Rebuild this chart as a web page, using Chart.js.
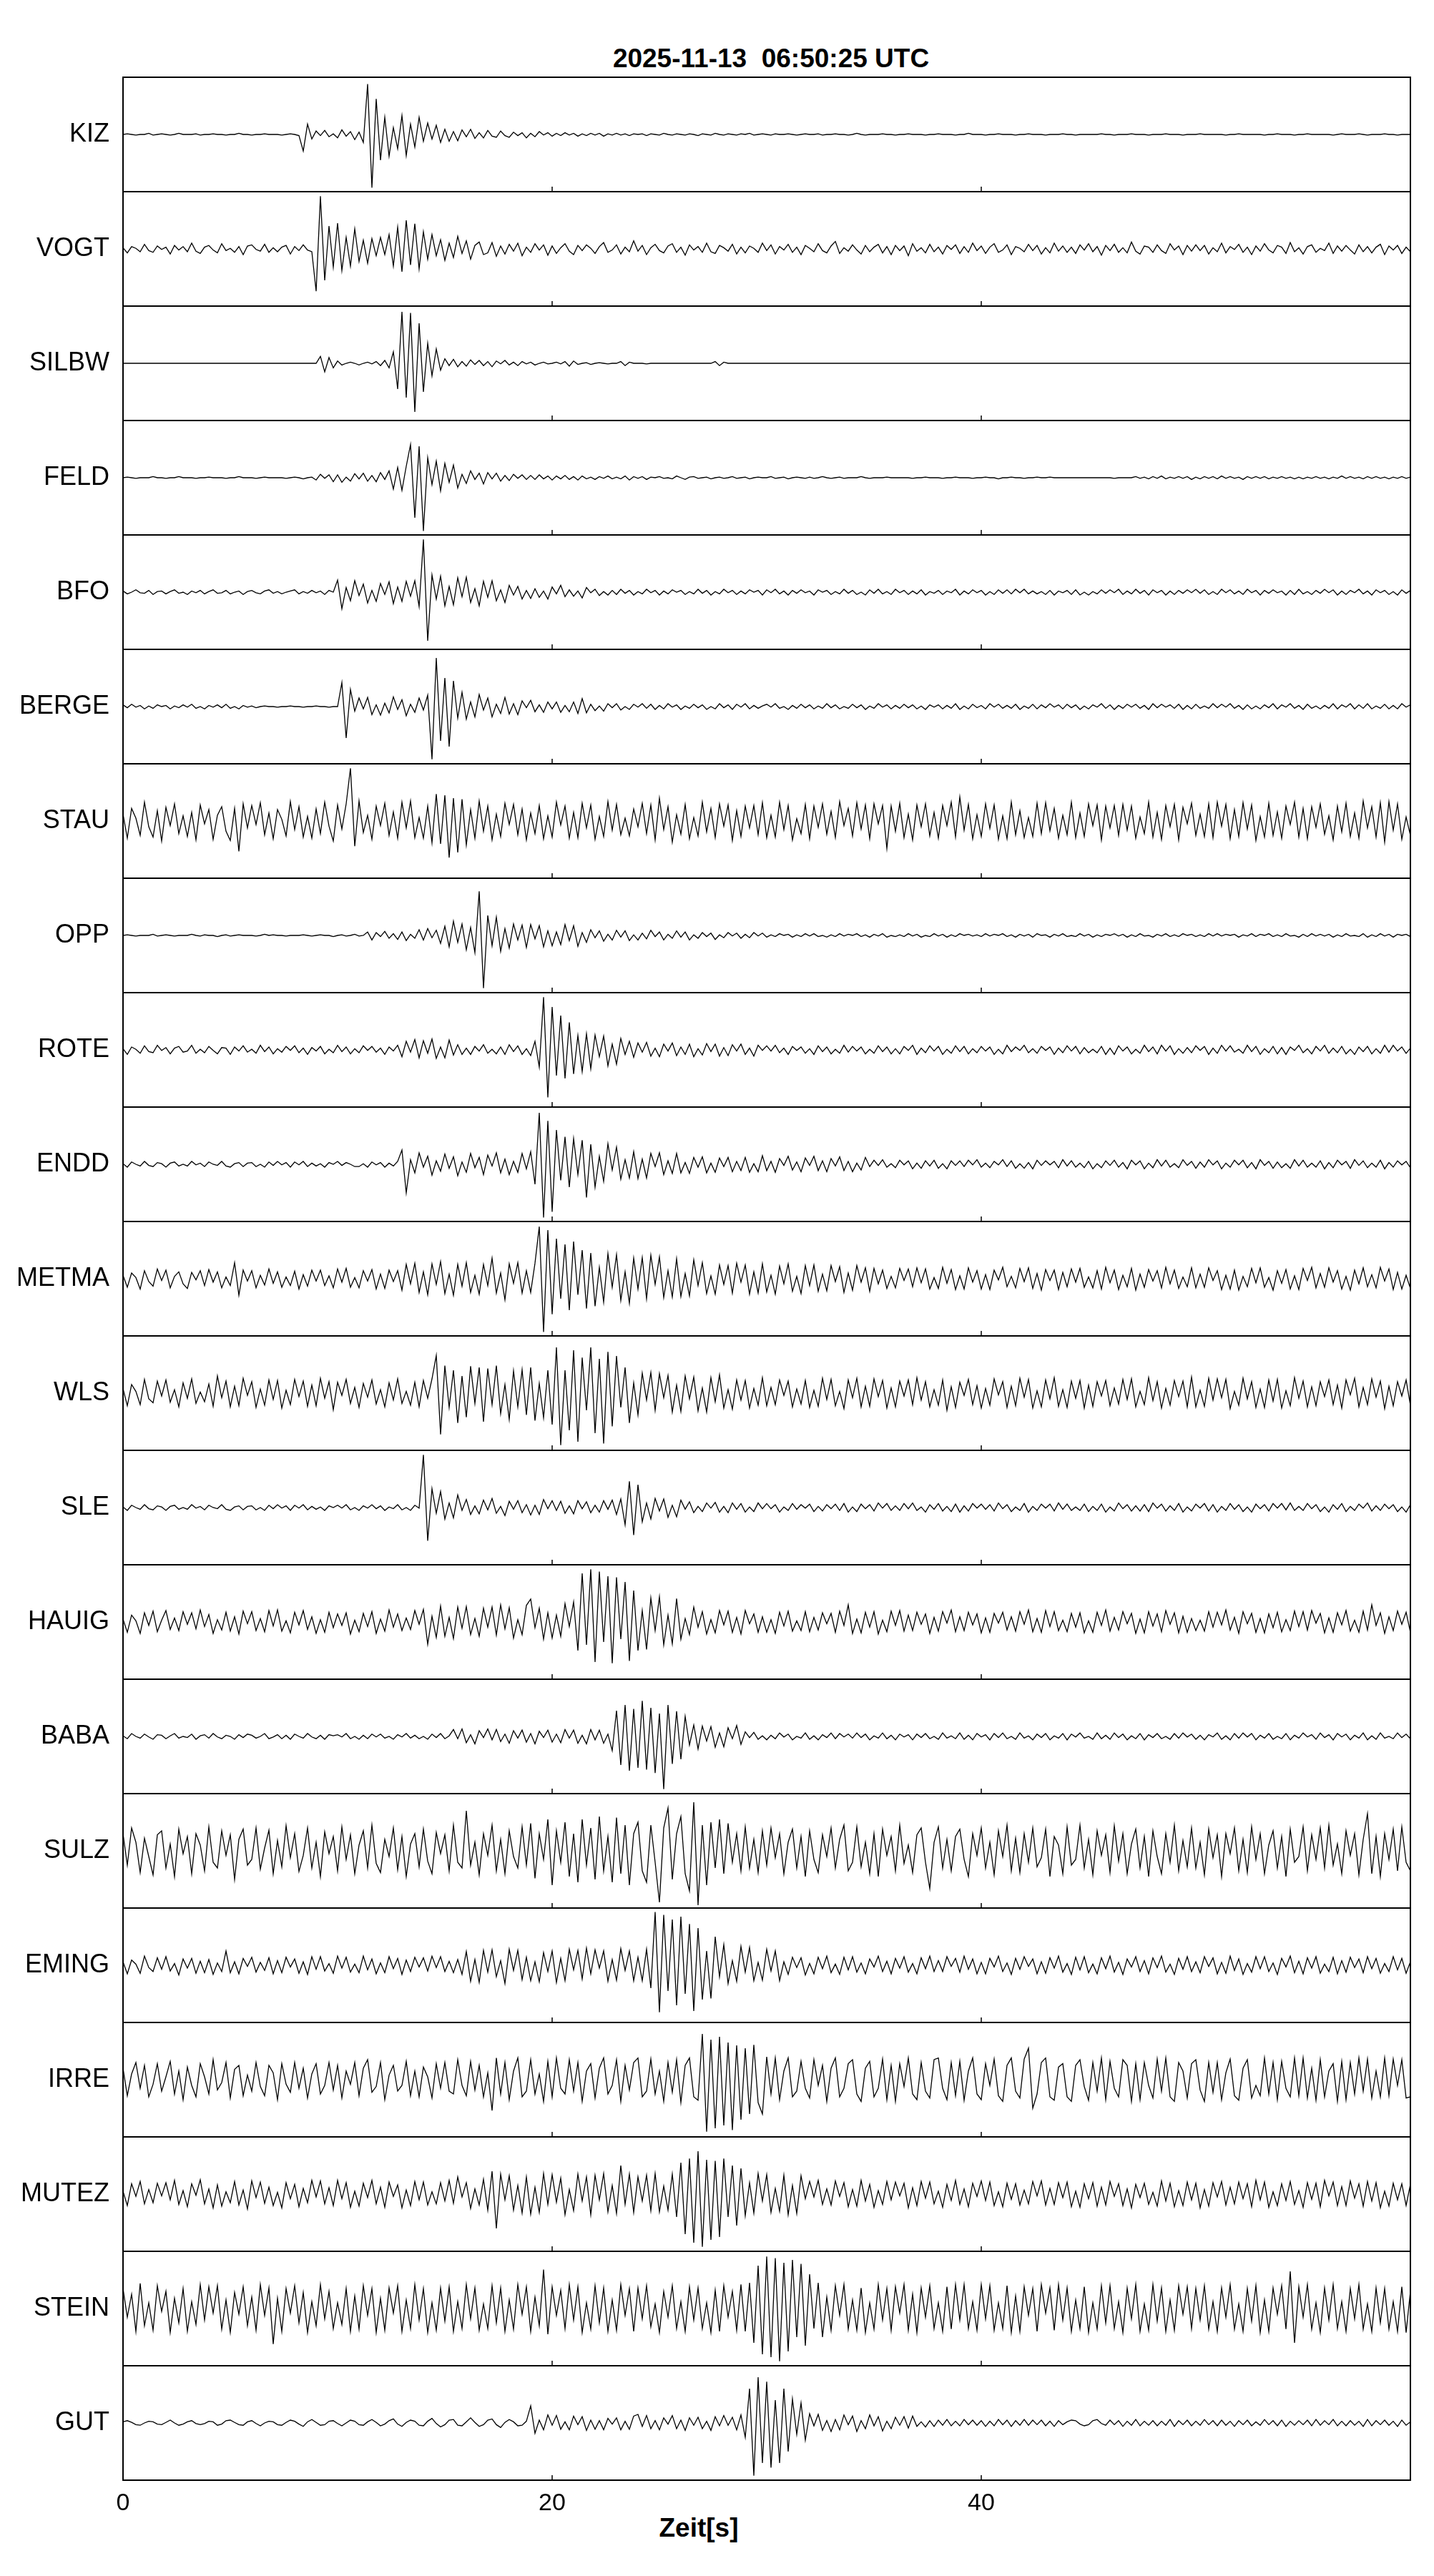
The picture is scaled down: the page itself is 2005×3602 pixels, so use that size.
<!DOCTYPE html>
<html>
<head>
<meta charset="utf-8">
<script src="https://cdn.jsdelivr.net/npm/chart.js@4.4.1/dist/chart.umd.min.js"></script>
<style>
    body {
        margin: 0;
        background: #fff;
        width: 2005px;
        height: 3602px;
        position: relative;
        font-family: "Liberation Sans", Arial, sans-serif;
    }
    canvas {
        position: absolute;
        left: 0;
    }
    .caption {
        position: absolute;
        font-weight: bold;
        font-size: 37px;
        line-height: 40px;
        text-align: center;
        white-space: pre;
        color: #000;
    }
</style>
</head>
<body>
<div class="caption" style="left:678px; width:800px; top:62px;">2025-11-13  06:50:25 UTC</div>
<div class="caption" style="left:777px; width:400px; top:3515px;">Zeit[s]</div>
<div id="panels"></div>

<script>
// one sample every 0.2 s, 0..60 s, amplitude in % of half panel height
const SAMPLE_STEP = 0.2;
const X_TICKS = [0, 20, 40];

const STATIONS = ["KIZ", "VOGT", "SILBW", "FELD", "BFO", "BERGE", "STAU", "OPP", "ROTE", "ENDD", "METMA",
    "WLS", "SLE", "HAUIG", "BABA", "SULZ", "EMING", "IRRE", "MUTEZ", "STEIN", "GUT"];

const KIZ = [
    0,1,0,-1,0, 0,2,-1,0,1, 0,-1,0,2,0, 0,0,1,-1,0, 0,1,0,0,-1, 0,0,2,0,0, -1,0,0,1,0, 0,0,-1,0,1, 0,-2,-29,18,-8, 6,-2,7,-4,1,
    -6,8,-3,5,-9, 4,-14,88,-93,62, -45,30,-38,12,-25, 33,-37,18,-22,30, -12,20,-8,16,-14, 9,-12,5,-11,8, -4,9,-7,3,-6, 7,-3,-5,6,-2, -5,4,-2,3,-6, 2,-4,5,-1,3,
    -3,2,-2,3,-1, 2,-3,1,-2,2, -1,2,-3,1,-1, 2,-1,1,-2,1, 0,1,-2,1,0, -1,2,0,-1,1, 0,-1,1,0,-2, 1,0,-1,2,0, -1,1,0,-1,1, 0,2,-1,0,1,
    0,-1,1,0,0, 1,0,-1,0,1, 0,0,1,-1,0, 0,1,0,0,-1, 0,2,0,-1,0, 0,0,1,0,0, -1,0,0,1,0, 0,0,-1,0,0, 1,0,0,0,-1, 0,0,2,0,0,
    0,-1,0,0,1, 0,0,0,-1,0, 0,1,0,0,0, -1,0,0,0,1, 0,0,-1,0,0, 0,0,0,1,0, 0,-1,0,0,0, 1,0,0,0,-1, 0,0,0,1,0, 0,0,-1,0,0,
    0,1,0,0,0, 0,0,-1,0,0, 1,0,0,0,0, 0,-1,0,0,1, 0,0,0,-1,0, 0,1,0,0,0, 0,0,-1,0,1, 0,0,0,1,0, -1,0,0,0,1, 0,0,-1,0,0, 0
];
const VOGT = [
    2,-7,4,1,-5, 8,-3,-6,5,-1, 3,-9,6,-2,4, -5,10,-4,-8,3, 6,-2,-7,9,-3, 1,-6,4,-10,5, 7,-1,-4,8,-6, 2,-5,3,6,-9, 4,-3,7,-2,-5, -74,92,-55,40,-32,
    45,-38,20,-30,35, -22,15,-25,18,-12, 20,-10,25,-30,38, -40,50,-28,44,-35, 30,-18,25,-12,16, -20,10,-15,22,-8, 14,-18,6,12,-10, -7,11,-13,5,-9, 8,-4,10,-12,3, -6,9,-2,7,-11,
    5,-8,2,9,-4, -10,6,-3,7,1, -8,4,11,-6,-2, 7,-9,3,-5,14, -4,6,-10,2,8, -3,-7,5,9,-6, 3,-11,7,-2,4, -6,10,-5,-8,6, 2,-4,8,-9,3, -7,5,1,-6,10,
    -3,7,-9,4,-2, 8,-6,3,-10,6, 1,-5,9,-3,-7, 5,13,-8,2,-4, 7,-2,-9,6,-5, 3,8,-7,4,-10, 6,-3,5,-12,9, -4,2,-7,8,-5, 3,-9,6,-1,7, -8,4,-6,10,-3,
    5,-8,3,9,-6, -2,7,-10,4,1, -5,8,-3,6,-9, 2,-7,10,-4,5, -6,3,-8,7,-2, 9,-5,4,-11,6, -3,8,-6,2,-7, 12,-4,-9,5,3, -6,7,-3,-8,9, -2,5,-10,6,-4,
    7,-3,6,-9,2, -5,10,-7,4,-1, 8,-6,3,-10,5, -4,9,-2,-7,6, 3,-8,11,-5,2, -9,4,7,-6,1, -3,10,-8,5,-4, 6,-2,-9,7,-5, 4,-7,3,8,-10, 5,-2,6,-8,3, -5
];
const SILBW = [
    0,0,0,0,0, 0,0,0,0,0, 0,0,0,0,0, 0,0,0,0,0, 0,0,0,0,0, 0,0,0,0,0, 0,0,0,0,0, 0,0,0,0,0, 0,0,0,0,0, 0,12,-15,10,-8,
    4,-3,0,2,0, -3,0,2,-1,3, -4,5,-8,20,-45, 90,-60,88,-85,70, -50,35,-22,25,-12, 8,-4,7,-6,3, -5,6,-2,5,-4, 3,-6,4,-1,5, -3,2,-4,3,-1, 2,-3,0,2,-1,
    0,2,-1,3,-5, 4,-2,0,1,-2, 0,1,0,-1,0, 0,3,-4,2,0, 0,0,-1,0,0, 0,0,0,0,0, 0,0,0,0,0, 0,0,0,3,-4, 2,0,0,0,0, 0,0,0,0,0,
    0,0,0,0,0, 0,0,0,0,0, 0,0,0,0,0, 0,0,0,0,0, 0,0,0,0,0, 0,0,0,0,0, 0,0,0,0,0, 0,0,0,0,0, 0,0,0,0,0, 0,0,0,0,0,
    0,0,0,0,0, 0,0,0,0,0, 0,0,0,0,0, 0,0,0,0,0, 0,0,0,0,0, 0,0,0,0,0, 0,0,0,0,0, 0,0,0,0,0, 0,0,0,0,0, 0,0,0,0,0,
    0,0,0,0,0, 0,0,0,0,0, 0,0,0,0,0, 0,0,0,0,0, 0,0,0,0,0, 0,0,0,0,0, 0,0,0,0,0, 0,0,0,0,0, 0,0,0,0,0, 0,0,0,0,0, 0
];
const FELD = [
    0,1,0,-1,0, 0,0,2,0,0, -1,0,0,2,0, 0,0,-1,0,0, 1,0,0,0,-1, 0,0,2,0,0, 0,-1,0,1,0, 0,0,0,-1,0, 1,0,-2,0,1, -4,6,-1,5,-7,
    5,-8,1,-6,7, -2,8,-6,4,-7, 9,-3,12,-20,18, -22,20,58,-70,55, -93,35,-12,29,-23, 25,-8,22,-18,6, -10,12,-3,8,-11, 9,-2,8,-6,4, -5,6,-1,5,-3, 4,-3,5,-2,3,
    -4,3,-2,4,-3, 2,-4,3,-2,1, -3,2,-1,3,-2, 1,-2,3,-4,2, -1,2,-3,1,0, 2,-1,0,-2,3, 0,-3,1,2,-1, 0,1,-2,0,1, -1,0,2,-1,0, 1,-2,0,1,0,
    0,2,-1,0,1, -2,0,1,0,-1, 1,-1,0,2,0, -1,0,1,-1,0, 0,0,2,0,-1, 0,0,0,1,0, 0,0,0,0,-1, 0,0,1,0,0, 0,-1,0,0,1, 0,0,0,-1,0,
    0,1,0,0,-2, 0,0,1,0,0, -1,0,0,1,0, 0,1,0,0,0, 0,0,0,0,0, 0,0,0,0,0, 0,-1,0,0,0, 0,2,-1,1,-2, 2,-1,3,-2,1, -1,2,-1,2,-3,
    1,-2,2,-1,2, -2,3,-1,2,-1, 1,-3,2,-1,2, -1,2,-2,1,-1, 2,-1,1,-2,1, -2,1,-1,2,-1, 1,-2,1,-1,3, -1,2,-1,1,-2, 2,-1,2,-1,1, -2,1,-1,2,-1, 1
];
const BFO = [
    2,-3,0,4,-1, -2,3,-4,1,2, -3,1,4,-2,0, -4,2,-1,3,-3, 1,4,-2,-1,3, -3,0,2,-4,1, 3,-1,-3,2,4, -2,1,-3,0,2, 4,-3,1,-2,3, -1,2,-4,3,0,
    21,-29,8,-15,20, -6,14,-19,3,-16, 15,-4,18,-20,9, -16,19,-7,20,-25, 92,-85,30,-12,28, -24,10,-22,25,-8, 26,-18,6,-24,19, -9,20,-15,4,-18, 12,-5,10,-12,3, -11,6,-9,2,-12,
    9,-3,12,-8,4, -7,2,-10,8,-1, 5,-6,1,-5,3, -4,5,-2,3,-5, 1,-3,5,-1,3, -5,2,-3,4,0, 3,-4,1,-3,5, -2,3,-5,1,-3, 5,-1,3,-4,2, -3,4,0,3,-5,
    4,-1,5,-3,2, -5,3,-2,4,-1, 2,-5,4,0,3, -4,1,-3,5,-2, 3,-4,0,-5,4, -2,5,-3,1,-4, 5,-1,3,-4,2, -3,4,-5,1,-2, 3,-4,2,-1,5, -5,2,-3,4,-1,
    3,-5,1,-4,4, -2,4,-3,5,-1, 5,-3,2,-3,1, -4,3,-5,2,-1, 3,-4,4,-5,0, -5,1,-3,4,-2, 4,-1,5,-4,2, -3,5,-2,3,-5, 4,-1,3,-5,2, -4,3,-2,4,-1,
    5,-2,4,-4,1, -4,5,-1,4,-3, 2,-4,5,-1,3, -5,3,-2,4,-1, 2,-5,3,-4,5, -3,1,-4,3,-2, 5,-1,4,-5,2, -4,3,-1,5,-3, 2,-5,4,-1,3, -4,1,-5,4,-2, 3
];
const BERGE = [
    3,-2,4,-1,2, -4,1,-3,3,0, 2,-4,1,-2,3, -1,4,-3,0,-4, 2,-1,3,-2,4, -3,0,-4,2,-1, 1,-2,0,1,0, 0,-1,0,0,1, 0,0,-1,0,0, 1,0,0,-1,0,
    0,42,-55,30,-8, 15,-4,16,-14,3, -15,6,-11,17,-5, 12,-16,4,-10,15, -6,20,-92,85,-60, 50,-70,45,-20,25, -22,8,-18,21,-6, 15,-18,4,-12,16, -13,5,-14,10,-2, 11,-9,3,-10,8,
    -4,8,-10,2,-9, 8,-12,14,-11,4, -7,1,-8,5,-2, 5,-6,0,-5,4, -1,5,-3,4,-5, 2,-4,5,-1,3, -5,1,-3,4,-2, 3,-5,0,-4,5, -2,3,-5,4,-1, 5,-4,2,-3,1,
    4,-1,5,-3,0, -5,2,-3,4,-2, 3,-4,1,-3,5, -2,3,-4,0,-3, 4,-2,3,-5,1, -3,5,-1,3,-4, 2,-3,4,-2,3, -4,1,-5,3,-1, 3,-4,2,-3,5, -5,1,-4,4,-2,
    2,-4,5,-1,4, -3,2,-3,4,-5, 1,-3,4,-4,3, -2,5,-1,3,-4, 4,-2,3,-5,1, -4,3,-1,5,-3, 3,-5,2,-3,4, -1,4,-3,2,-5, 5,-2,4,-1,3, -3,4,-5,2,-4,
    4,-3,1,-3,5, -2,4,-1,5,-3, 2,-5,3,-4,1, -4,3,-2,5,-4, 3,-1,5,-3,2, -5,4,-3,1,-4, 2,-3,5,-4,3, -1,5,-4,3,-3, 5,-4,1,-3,4, -4,2,-4,5,-1, 3
];
const STAU = [
    12,-30,22,5,-25, 33,-10,-28,18,-35, 24,-8,30,-22,9, -27,15,-33,28,-5, 20,-32,10,25,-18, -34,22,-53,30,-12, 27,-6,32,-24,14, -31,20,3,-26,34, -15,25,-28,8,-30, 21,-22,33,-9,-35,
    28,-14,30,92,-44, 35,-20,10,-32,26, -8,31,-25,16,-30, 33,-12,35,-29,6, -30,26,-38,47,-40, 45,-64,40,-55,38, -42,20,-30,35,-18, 26,-33,12,-27,31, -6,29,-24,21,-33, 14,-22,27,-31,9,
    -28,33,-7,26,-30, 15,-29,31,-12,28, -32,8,-27,34,-16, 29,-24,5,-26,21, -10,31,-22,28,-33, 40,-15,25,-37,11, -23,29,-31,6,-26, 33,-19,22,-29,30, -9,28,-34,18,-27, 26,-12,27,-24,32,
    -29,10,-28,33,-15, 27,-33,4,-22,29, -31,26,-11,30,-23, 17,-29,34,-8,22, -26,32,-14,28,-31, 30,-5,27,-48,26, -18,31,-29,12,-33, 28,-10,30,-26,15, -30,27,-8,33,-28, 42,-16,29,-31,11,
    -27,30,-13,28,-32, 9,-31,33,-24,18, -29,6,-27,31,-22, 32,-17,22,-30,10, -24,33,-29,14,-27, 30,-8,28,-33,26, -12,27,-25,29,-16, 26,-30,7,-22,33, -28,15,-32,27,-10, 29,-33,24,-5,31,
    -25,12,-27,30,-29, 33,-9,29,-31,20, -27,32,-14,28,-34, 8,-28,31,-25,16, -30,26,-6,33,-28, 22,-31,25,-11,30, -23,9,-33,26,-19, 31,-27,14,-30,35, -12,25,-28,32,-37, 34,-16,30,-32,7, -25
];
const OPP = [
    0,1,0,-1,0, 0,0,2,-1,0, 1,0,-1,0,0, 0,2,0,-1,1, 0,0,-2,0,1, -1,0,1,0,0, 0,-1,0,2,0, 1,0,0,-1,0, 0,0,1,0,-1, 0,1,0,0,-2,
    0,1,-1,0,2, -1,0,6,-8,5, -2,7,-5,3,-7, 6,-9,2,-5,10, -8,12,-4,9,-14, 16,-20,25,-12,20, -25,14,-30,77,-92, 35,-18,32,-28,12, -22,20,-8,18,-21, 19,-6,17,-20,8,
    -18,6,-16,19,-9, 17,-19,5,-12,10, -4,8,-10,2,-8, 9,-3,8,-9,1, -8,4,-6,9,-2, 6,-8,2,-5,8, -3,6,-8,1,-5, 5,-2,4,-7,1, -4,5,-1,4,-5, 2,-4,5,-1,4,
    -3,1,-2,3,0, 2,-3,1,-2,3, -1,3,-2,0,-3, 1,-2,3,-1,2, 0,3,-2,1,-3, 2,-1,3,-3,0, -2,1,-2,3,-1, 2,-3,0,-2,3, -1,2,-3,1,-2, 3,0,2,-1,1,
    -2,3,-1,2,0, 3,-2,1,-3,2, -1,2,-3,3,0, 1,-3,2,-1,3, -2,0,-2,3,-1, 2,-3,1,-2,2, 0,3,-1,2,-3, 1,-2,3,-1,0, -3,2,-1,3,-2, 1,-2,3,0,2,
    -2,1,-2,3,-1, 3,-1,2,0,2, -3,1,-1,3,-2, 2,0,3,-2,1, -2,3,-1,0,-3, 2,-2,3,-1,2, -1,2,-3,1,-2, 3,-1,0,-2,3, -3,1,-2,3,-1, 2,-3,2,0,2, -2
];
const ROTE = [
    2,-8,5,1,-6, 7,-3,-5,8,-1, 4,-7,3,6,-4, -2,8,-6,1,-5, 6,-1,-7,4,3, -8,5,-2,7,-4, 1,-6,8,-3,5, -7,2,-4,6,-1, 7,-5,3,-8,4, -2,6,-7,1,-5,
    8,-3,5,-7,2, -5,7,-1,6,-4, 3,-8,5,-2,8, -12,15,-4,18,-14, 16,-6,19,-15,5, -14,17,-9,9,-8, 3,-8,6,-2,9, -6,1,-7,5,-8, 9,-3,7,-8,2, -10,15,-30,92,-83,
    75,-45,60,-50,48, -42,25,-38,28,-33, 26,-12,24,-28,10, -25,20,-8,15,-13, 12,-4,13,-11,3, -12,10,-2,12,-10, 5,-8,10,-12,2, -9,11,-3,10,-11, 4,-10,9,-2,10, -8,3,-11,8,-1,
    7,-2,8,-5,3, -8,6,-1,5,-6, 2,-8,7,-3,5, -7,1,-6,8,-4, 6,-2,5,-7,1, -6,7,-3,5,-7, 2,-7,6,-1,8, -8,3,-5,7,-2, 6,-8,1,-6,7, -3,6,-7,2,-5,
    6,-2,5,-8,1, -7,8,-3,5,-1, 8,-5,2,-6,6, -1,5,-8,3,-5, 7,-2,6,-7,4, -5,1,-5,6,-8, 3,-8,7,-2,5, -7,1,-6,8,-3, 5,-7,8,-2,7, -8,2,-6,4,-5,
    7,-1,6,-8,3, -6,8,-2,7,-4, 1,-6,8,-3,6, -8,2,-5,6,-7, 4,-8,5,-1,8, -5,2,-7,6,-2, 8,-6,3,-5,6, -7,1,-8,5,-3, 6,-7,2,-6,8, -4,8,-2,5,-6, 3
];
const ENDD = [
    1,-5,4,0,-3, 5,-2,-4,3,1, -5,2,4,-3,0, -3,5,-1,2,-4, 4,0,-2,5,-3, -5,1,3,-4,2, 3,-4,0,-5,4, -2,5,-1,3,-5, 4,-1,5,-4,2, -3,1,-5,3,0,
    5,-2,3,0,-4, -4,1,-5,4,-1, 3,-5,2,-3,5, 25,-50,8,-15,20, -5,14,-19,6,-12, 18,-7,13,-20,4, -14,19,-6,12,-18, 16,-3,20,-15,9, -18,5,-14,19,-8, 22,-35,90,-93,76,
    -83,60,-28,48,-40, 45,-18,42,-58,35, -40,14,-30,36,-10, 30,-26,8,-24,22, -25,9,-24,19,-4, 20,-18,6,-16,19, -15,3,-16,12,-5, 13,-15,2,-14,11, -4,12,-13,5,-11, 12,-14,1,-13,15,
    -11,5,-14,10,-2, 14,-10,4,-13,11, -2,14,-11,6,-13, 10,-3,13,-11,5, -13,2,-10,12,-4, 7,-2,8,-5,1, -6,7,-1,6,-8, 2,-7,6,-3,7, -7,1,-8,6,-2, 6,-4,7,-1,8,
    -5,2,-6,5,-1, 8,-4,6,-7,1, -7,3,-8,7,-2, 6,-1,5,-6,8, -3,6,-5,2,-6, 5,-8,1,-6,6, -2,7,-5,3,-8, 7,-1,6,-8,2, -6,8,-3,7,-5, 1,-6,8,-2,5,
    -7,4,-5,8,-1, 6,-8,2,-5,7, -1,7,-6,3,-8, 8,-2,5,-7,4, -6,1,-7,8,-3, 7,-5,2,-5,6, -8,3,-6,7,-1, 5,-7,8,-2,6, -6,2,-5,7,-8, 3,-5,6,-1,5, -6
];
const METMA = [
    6,-15,10,2,-18, 14,-5,-13,17,-3, 15,-16,4,12,-9, -17,11,-2,14,-12, 16,-6,12,-16,3, -12,28,-29,15,-4, 14,-16,6,-11,17, -8,12,-15,3,-12, 13,-18,7,-13,15, -4,15,-12,5,-16,
    17,-6,18,-15,2, -16,14,-4,16,-18, 8,-17,15,-5,14, -20,25,-9,27,-24, 12,-28,26,-10,30, -26,8,-29,25,-13, 28,-24,6,-27,25, -12,36,-25,10,-37, 26,-8,28,-25,14, -24,27,91,-93,85,
    -62,70,-35,60,-55, 65,-28,50,-52,45, -48,20,-41,44,-15, 42,-38,12,-43,36, -18,37,-35,41,-10, 38,-33,14,-32,35, -31,9,-30,33,-12, 28,-26,5,-27,24, -10,23,-25,27,-6, 24,-27,12,-25,26,
    -23,6,-27,22,-9, 26,-22,4,-26,23, -12,24,-22,8,-21, 23,-5,21,-24,10, -20,23,-6,19,-22, 18,-9,15,-17,4, -16,18,-3,17,-14, 19,-7,17,-18,2, -17,20,-8,16,-19, 5,-18,19,-6,14,
    -18,7,-19,15,-2, 20,-14,4,-16,18, -5,19,-17,9,-20, 16,-3,15,-19,11, -14,17,-6,18,-15, 3,-16,14,-18,20, -7,15,-19,6,-14, 18,-20,8,-15,16, -4,14,-16,20,-9, 15,-17,3,-14,19,
    -16,8,-15,19,-3, 14,-19,6,-18,15, -20,4,-14,18,-7, 19,-15,2,-20,14, -8,16,-18,5,-19, 18,-3,20,-16,9, -15,19,-6,14,-18, 4,-20,15,-9,19, -14,7,-16,20,-4, 17,-19,11,-18,6, -17
];
const WLS = [
    8,-22,15,3,-20, 24,-10,-17,21,-5, 23,-16,6,-24,18, -9,25,-18,2,-15, 16,-23,30,-8,21, -24,12,-22,26,-4, 20,-25,7,-21,23, -11,22,-26,5,-20, 24,-6,21,-23,14, -22,26,-9,20,-29,
    19,-4,24,-18,10, -25,17,-7,23,-19, 6,-24,18,-12,25, -18,3,-21,19,-24, 22,-9,25,66,-72, 48,-25,40,-52,30, -42,47,-18,45,-50, 43,-20,48,-36,15, -46,39,-24,41,-38, 45,-48,17,-43,40,
    -55,80,-91,40,-65, 75,-85,62,-30,80, -70,60,-88,72,-58, 65,-25,45,-52,18, -38,35,-12,36,-30, 34,-8,31,-33,14, -32,30,-10,28,-31, 9,-33,27,-15,32, -26,6,-28,23,-12, 22,-26,8,-21,27,
    -22,10,-20,23,-4, 21,-24,7,-19,22, -25,5,-23,26,-11, 24,-22,3,-27,23, -8,26,-24,12,-23, 25,-6,22,-26,9, -24,21,-5,23,-20, 27,-12,20,-24,6, -21,23,-30,11,-25, 19,-4,24,-20,13,
    -26,8,-21,25,-3, 20,-25,12,-22,26, -7,24,-26,4,-24, 23,-10,27,-23,6, -25,21,-9,22,-26, 14,-23,20,-5,22, -22,9,-19,24,-11, 25,-24,3,-20,27, -13,20,-26,8,-21, 22,-6,21,-24,28,
    -24,5,-23,26,-12, 25,-8,24,-27,3, -21,26,-10,20,-25, 7,-25,23,-14,24, -26,4,-22,27,-9, 21,-24,11,-22,20, -6,23,-20,14,-26, 23,-3,26,-24,10, -20,25,-7,21,-27, 12,-22,20,-5,23, -21
];
const SLE = [
    1,-5,4,0,-3, 5,-2,-4,3,1, -5,2,4,-3,0, -3,5,-1,2,-4, 4,0,-2,5,-3, -5,1,3,-4,2, 3,-4,0,-5,4, -2,5,-1,3,-5, 4,-1,5,-4,2, -3,1,-5,3,0,
    4,-1,5,-4,0, -5,3,-1,5,-2, 3,-5,1,-2,5, -4,0,-5,4,-1, 92,-58,33,-10,28, -20,8,-18,22,-5, 14,-12,3,-11,13, -4,16,-10,2,-14, 11,-3,12,-9,5, -13,4,-12,14,-2,
    12,-5,11,-10,3, -11,12,-2,10,-9, 4,-8,12,-3,13, -12,15,-30,46,-48, 40,-25,8,-20,16, -6,15,-17,4,-16, 13,-3,10,-9,2, -7,8,-1,9,-8, 2,-9,8,-3,7, -8,1,-7,8,-2,
    7,-2,5,-8,1, -5,7,-3,5,-1, 6,-7,2,-6,5, -2,6,-5,7,-8, 1,-7,6,-2,5, -6,8,-1,7,-5, 3,-5,7,-2,8, -5,1,-8,5,-3, 7,-6,2,-7,6, -8,3,-6,7,-1,
    6,-3,5,-6,8, -2,5,-7,1,-5, 7,-8,2,-5,6, -1,6,-6,8,-3, 6,-5,1,-5,6, -7,2,-5,6,-8, 1,-6,8,-2,5, -6,3,-6,5,-7, 8,-1,6,-6,3, -5,7,-8,1,-6,
    6,-1,7,-6,5, -8,2,-5,7,-3, 5,-7,1,-8,6, -2,5,-6,7,-1, 7,-4,8,-5,2, -5,7,-2,5,-7, 1,-8,5,-3,7, -7,2,-5,6,-1, 8,-6,3,-5,6, -2,5,-7,1,-8, 5
];
const HAUIG = [
    5,-18,12,2,-20, 16,-6,19,-17,3, 20,-13,7,-15,18, -4,16,-12,21,-8, 13,-20,4,-14,17, -16,9,-21,19,-3, 18,-15,6,-17,20, -7,21,-16,2,-19, 17,-5,20,-13,9, -20,4,-18,17,-10,
    14,-6,16,-21,3, -17,15,-8,18,-20, 5,-16,21,-9,14, -15,7,-13,20,-4, 22,-39,10,-27,28, -25,8,-29,26,-11, 27,-22,6,-25,24, -9,26,-23,30,-12, 25,-28,4,-22,29, 40,-10,24,-30,16,
    -28,12,-25,32,-8, 35,-50,85,-40,92, -70,88,-35,80,-72, 78,-30,70,-68,55, -50,20,-48,42,-15, 44,-40,12,-38,41, -30,6,-22,26,-9, 18,-21,4,-19,20, -5,19,-18,8,-21, 20,-3,14,-18,9,
    -18,4,-20,17,-7, 19,-16,2,-15,18, -17,8,-14,16,-3, 15,-18,19,-6,30, -20,5,-19,17,-9, 18,-21,3,-17,19, -6,20,-16,12,-15, 17,-4,14,-20,8, -16,18,-2,21,-17, 9,-15,17,-5,14,
    -19,7,-18,15,-2, 17,-14,9,-16,18, -4,21,-17,6,-18, 20,-8,18,-15,3, -17,15,-9,16,-19, 2,-18,17,-6,21, -16,8,-14,18,-3, 15,-20,5,-19,18, -7,14,-17,20,-4, 16,-19,10,-18,6,
    -15,3,-16,18,-9, 17,-5,21,-14,8, -20,18,-3,15,-18, 6,-19,14,-10,17, -17,4,-15,19,-8, 18,-14,20,-2,15, -19,7,-18,16,-5, 20,-16,3,-18,19, -14,30,-6,16,-20, 9,-15,19,-4,17, -18
];
const BABA = [
    1,-4,5,0,-3, 4,-1,-5,3,2, -4,1,5,-3,0, -2,4,-5,1,3, -3,5,-1,-4,2, 0,-5,3,-2,4, 2,-3,0,5,-4, -1,3,-4,2,-5, 4,0,-3,5,-1, -4,2,-5,3,1,
    3,-1,5,-4,0, -5,2,-4,4,-1, 4,-3,0,-5,3, -1,5,-3,2,-4, 0,-5,4,-2,5, -4,1,12,-4,13, -11,3,-13,10,-2, 13,-6,12,-9,4, -12,10,-3,11,-10, 5,-13,9,-2,11,
    -10,4,-11,12,-3, 11,-12,2,-13,12, -6,11,-12,4,-25, 45,-50,55,-60,48, -55,62,-58,50,-64, 40,-92,55,-48,44, -40,35,-15,20,-22, 18,-8,17,-19,6, -18,15,-4,19,-14, 8,-2,7,-5,1,
    -6,2,-4,6,-1, 4,-6,0,-3,6, -5,1,-6,3,-2, 6,-4,5,-1,4, -3,6,-2,4,-6, 1,-3,6,-4,2, -6,4,-1,3,-6, 4,-2,5,-4,0, -5,6,-3,1,-4, 6,-5,2,-6,5,
    -1,3,-6,5,-2, 6,-4,0,-5,6, -3,1,-6,4,-2, 5,-6,1,-3,5, -6,4,-1,6,-3, 0,-5,6,-4,2, -5,6,-2,4,-6, 1,-4,5,-6,3, -2,5,-4,0,-5, 5,-3,6,-1,4,
    -5,2,-6,3,-1, 6,-5,1,-6,5, -3,6,-1,5,-6, 2,-3,5,-5,0, -4,5,-6,2,-3, 6,-1,3,-5,6, -2,3,-6,5,-1, 4,-6,2,-3,6, -6,1,-5,6,-3, 0,-4,6,-2,4, -4
];
const SULZ = [
    30,-25,40,15,-38, 22,-10,-42,28,35, -30,12,-45,38,-5, 25,-40,30,10,-35, 42,-20,-30,35,-8, 28,-50,20,38,-25, -15,40,-32,5,36, -40,18,-28,44,-12, 30,-36,-8,40,-30, 15,-45,33,-5,25,
    -35,42,-15,28,-40, 10,35,-30,45,-22, -38,20,-10,40,-33, 25,-45,12,30,-28, 38,-18,-40,32,-5, 28,-35,45,-20,-30, 70,-25,15,-42,30, -8,45,-35,20,-40, 35,-10,-30,42,-25, 48,-48,30,-15,55,
    -60,35,-20,50,-45, 30,-55,55,-25,40, -50,60,-35,25,-55, 58,-40,45,-60,30, 50,-35,-55,45,-20, -90,40,75,-50,30, 60,-40,-70,85,-95, 45,-60,50,-30,55, -40,48,-20,30,-35, 42,-30,20,-38,35,
    -25,40,-12,30,-40, 15,38,-30,25,-45, 35,-15,-38,28,-10, 40,-30,20,45,-35, -20,42,-28,15,-40, 30,-45,38,-8,25, -35,45,-22,10,-38, 28,40,-20,-66,15, 42,-30,20,-35,25, 38,-15,-45,30,-8,
    40,-30,15,-42,35, -10,45,-35,22,-38, 30,-20,40,-28,-12, 38,-45,25,10,-40, 42,-25,-15,45,-30, 20,-42,35,-8,28, -38,44,-18,30,-40, 12,38,-30,25,-45, 35,-10,-40,30,-20, 45,-35,18,-28,40,
    -30,15,-42,38,-12, 28,-45,30,-5,40, -35,20,-38,42,-15, 30,-40,10,35,-30, 25,-45,38,-20,-10, 42,-35,28,-15,40, -30,45,-25,12,-40, 35,-8,30,-42,20, 65,-40,25,-45,30, -15,38,-35,42,-20, -35
];
const EMING = [
    6,-15,9,2,-14, 16,-4,-11,13,-7, 15,-10,3,-17,11, -5,12,-14,7,-13, 10,-16,4,-11,25, -13,6,-15,12,-2, 14,-12,5,-9,13, -15,8,-13,14,-3, 11,-14,6,-16,15, -7,15,-10,3,-14,
    16,-5,14,-12,2, -13,16,-8,11,-15, 4,-13,15,-6,12, -16,9,-11,14,-3, 13,-10,16,-4,15, -11,7,-13,10,-16, 24,-28,10,-30,26, -12,27,-20,8,-32, 28,-9,26,-25,14, -27,6,-29,22,-11,
    25,-30,12,-27,28, -8,26,-24,30,-15, 27,-5,25,-28,10, -26,29,-9,25,-27, 14,-27,28,-40,93, -82,88,-45,80,-70, 85,-50,72,-80,65, -60,25,-58,50,-20, 36,-32,8,-28,33, -12,31,-27,5,-26,
    28,-10,25,-27,6, -16,14,-4,13,-17, 3,-15,14,-6,16, -13,2,-16,14,-8, 15,-12,4,-15,11, -3,16,-11,7,-15, 12,-5,15,-12,3, -15,13,-6,16,-11, 8,-11,15,-2,12, -12,16,-7,11,-15,
    5,-15,12,-3,16, -11,4,-16,12,-7, 15,-2,11,-15,6, -14,13,-5,16,-12, 3,-16,14,-8,15, -13,2,-15,13,-6, 16,-12,5,-16,11, -3,15,-11,8,-15, 13,-4,16,-12,2, -16,12,-7,15,-11,
    6,-13,15,-2,13, -15,5,-14,16,-9, 11,-16,3,-12,15, -6,15,-11,4,-16, 12,-3,16,-13,7, -15,13,-5,15,-14, 2,-11,14,-15,8, -12,14,-4,11,-13, 15,-6,12,-14,3, -11,15,-8,12,-14, 6
];
const IRRE = [
    20,-28,10,30,-15, 25,-30,-8,28,-20, 5,32,-25,15,-35, 22,-10,-30,28,5, -25,35,-18,-5,30, -32,18,25,-28,8, -20,30,-12,-28,25, 12,-35,28,-8,-22, 30,-15,20,-32,10, 28,-25,-10,30,-18,
    25,-32,15,-8,30, -28,20,35,-22,-12, 30,-35,8,25,-20, -10,32,-28,15,-30, 22,5,-32,28,-15, 30,-20,-25,35,-10, -28,32,-18,25,-30, 12,-54,38,-25,30, -35,15,38,-30,-20, 35,-25,10,-38,32,
    -30,38,-15,-25,35, -20,30,-38,15,28, -32,20,38,-25,-10, 35,-38,25,-18,30, 38,-30,-20,36,-25, 15,-38,30,-22,35, -40,25,38,-30,-36, 80,-91,70,-85,75, -80,65,-88,60,-70, 55,-60,61,-40,-60,
    40,-25,38,-35,15, 38,-30,-20,32,-15, -32,35,-10,25,-38, 20,38,-30,-15,28, 35,-25,-38,20,32, -30,-15,36,-35,25, -38,28,-12,38,-25, -35,30,-20,-32,35, 38,-15,-35,30,-28, 32,-36,15,38,-25,
    -35,28,-10,36,-28, -38,25,38,-20,-32, 36,55,-50,-25,30, 38,-30,-36,22,28, -30,-38,25,35,-12, -36,30,-20,38,-35, 32,-15,-30,35,25, -38,28,-35,30,-10, -32,36,-20,38,-30, -38,30,15,-32,28,
    35,-18,-38,30,-22, 30,-35,12,36,-28, -36,20,35,-32,-10, -28,38,-25,30,-35, 32,-15,-30,38,-28, 38,-32,20,-36,35, -30,15,28,-38,32, -35,30,-25,38,-20, 36,-32,15,-30,38, -28,36,-10,35,-32, -30
];
const MUTEZ = [
    5,-20,18,-4,22, -17,8,-15,19,-3, 20,-10,24,-18,6, -22,18,-2,25,-17, 9,-24,16,-21,4, -15,22,-19,7,-26, 23,-6,21,-16,12, -20,3,-24,20,-8, 17,-22,10,-15,24, -5,23,-17,11,-20,
    24,-8,20,-23,5, -21,19,-6,24,-17, 12,-23,21,-4,16, -24,7,-20,22,-10, 21,-19,4,-17,20, -12,24,-16,30,-5, 20,-25,9,-19,26, -28,40,-60,35,-10, 32,-28,15,-33,30, -35,12,-32,36,-18,
    34,-14,28,-36,8, -29,35,-12,30,-36, 33,-10,36,-31,15, -34,50,-18,35,-32, 30,-12,33,-29,36, -31,14,-28,35,-40, 55,-70,62,-85,75, -92,60,-80,58,-75, 62,-40,50,-55,45, -38,20,-33,36,-12,
    34,-32,10,-30,33, -36,15,-34,32,-8, 22,-5,24,-18,9, -19,23,-4,20,-22, 8,-21,24,-12,17, -23,6,-18,22,-10, 21,-3,19,-24,11, -20,22,-7,21,-17, 5,-23,17,-11,24, -18,9,-22,19,-4,
    23,-11,21,-20,4, -22,19,-9,18,-19, 7,-17,22,-3,23, -19,10,-18,20,-6, 21,-22,5,-23,18, -8,20,-21,12,-19, 22,-4,18,-20,9, -24,17,-6,19,-18, 3,-21,23,-12,19, -22,6,-20,21,-10,
    19,-24,8,-21,20, -5,22,-19,12,-17, 21,-8,18,-22,24, -10,21,-23,4,-20, 18,-11,22,-18,6, -23,20,-9,19,-22, 24,-3,21,-20,13, -20,23,-7,18,-21, 22,-12,20,-24,5, -21,19,-10,18,-20, 17
];
const STEIN = [
    35,-15,25,-40,44, -30,10,-38,40,-5, 30,-42,18,-25,35, -40,12,-28,42,-20, 38,-8,40,-36,15, -42,28,-10,38,-30, 20,-38,42,-12,36, -62,18,-40,35,-8, 40,-25,28,-42,12, -30,42,-18,30,-35,
    10,-28,35,-40,22, -36,40,-12,35,-42, 18,-38,36,-8,40, -40,15,-35,42,-20, 35,-42,10,-38,36, -22,38,-40,12,-35, 42,-18,36,-38,8, -35,40,-25,36,-40, 15,-36,42,-10,38, -40,20,-30,68,-45,
    38,-12,32,-35,42, -20,38,-42,10,-36, 40,-25,36,-40,15, -38,42,-12,35,-40, 36,-18,40,-32,8, -42,30,-15,40,-35, 12,-40,38,-20,36, -35,10,-42,32,-40, 40,-15,30,-38,42, -40,45,-60,75,-80,
    91,-85,88,-92,80, -75,85,-50,78,-65, 60,-35,45,-50,20, -38,40,-12,42,-36, 15,-38,36,-42,10, -36,42,-20,35,-38, 38,-8,42,-38,25, -42,36,-15,40,-35, 10,-40,38,-36,42, -20,42,-35,12,-38,
    42,-18,40,-38,10, -35,40,-42,22,-40, 38,-12,35,-40,42, -8,36,-38,42,-20, 36,-40,15,-35,38, -42,10,-36,40,-25, 40,-35,12,-42,36, -18,42,-40,8,-38, 42,-22,36,-40,15, -38,40,-10,38,-35,
    35,-20,40,-36,12, -40,36,-15,42,-36, 8,-40,35,-22,40, -42,15,-40,36,-10, 40,-36,65,-60,38, -15,42,-36,10,-42, 36,-20,42,-35,12, -40,35,-18,42,-36, 8,-40,36,-25,35, -36,12,-40,38,-42, 30
];
const GUT = [
    2,4,1,-3,-4, 0,3,2,-2,-3, 1,5,0,-4,-2, 2,4,-1,-3,-1, 3,2,-4,-2,4, 5,1,-3,-4,2, 4,-1,-5,0,3, 2,-3,-4,1,5, 3,-2,-6,2,6, 1,-4,-3,3,4,
    -1,-5,0,5,3, -3,-4,2,6,1, -5,-2,4,7,-2, -6,1,5,3,-4, -5,3,8,-1,-7, -3,5,6,-4,-5, 2,9,1,-6,-3, 5,7,-3,-8,1, 6,2,-5,-4,3, 30,-18,5,-12,14,
    -4,13,-11,2,-12, 12,-3,11,-13,5, -11,4,-12,8,-2, 9,-12,3,-11,12, 15,-6,13,-10,4, -12,9,-2,13,-10, 5,-13,9,-4,10, -10,3,-13,11,-5, 13,-4,10,-12,14, -25,60,-92,80,-70,
    72,-78,40,-70,60, -50,42,-20,35,-30, 16,-5,15,-13,4, -15,6,-12,14,-3, 12,-15,4,-10,14, -5,11,-14,3,-10, 10,-4,11,-9,12, -6,2,-7,4,-6, 5,-4,6,-5,3, -5,6,-3,5,-4,
    4,-6,3,-5,6, -3,5,-6,4,-4, 6,-4,5,-3,5, -5,3,-6,4,-3, 2,5,4,-2,-5, -3,4,6,-1,-4, 5,-3,4,-6,3, -4,6,-5,3,-4, 4,-5,3,-4,6, -6,4,-3,5,-5,
    3,-4,6,-3,4, -5,5,-4,3,-6, 4,-3,5,-5,2, -4,6,-3,4,-5, 5,-6,3,-4,4, -3,5,-5,6,-4, 4,-3,6,-5,3, -5,4,-4,3,-6, 6,-5,4,-3,5, -4,3,-6,5,-4, 2
];

const TRACES = [KIZ, VOGT, SILBW, FELD, BFO, BERGE, STAU, OPP, ROTE, ENDD, METMA,
    WLS, SLE, HAUIG, BABA, SULZ, EMING, IRRE, MUTEZ, STEIN, GUT];

// page layout (px)
const PLOT_TOP = 108;
const PANEL_HEIGHT = 160;
const PLOT_LEFT = 172;
const PLOT_RIGHT = 1972;
const PAGE_WIDTH = 2005;
const AXIS_HEIGHT = 60;

Chart.defaults.font.family = '"Liberation Sans", Arial, sans-serif';
Chart.defaults.color = "#000";

// frame round each panel plus the small inward ticks at 20 s and 40 s
const panelFrame = {
    id: "panelFrame",
    afterDraw(chart) {
        const { ctx, chartArea: area, scales } = chart;
        ctx.save();
        ctx.strokeStyle = "#000";
        ctx.lineWidth = 2;
        ctx.strokeRect(area.left, area.top, area.right - area.left, area.bottom - area.top);
        ctx.lineWidth = 1.5;
        X_TICKS.forEach((value) => {
            if (value === 0) return;
            const x = scales.x.getPixelForValue(value);
            ctx.beginPath();
            ctx.moveTo(x, area.bottom);
            ctx.lineTo(x, area.bottom - 7);
            ctx.stroke();
        });
        ctx.restore();
    },
};

function makePanel(index) {
    const isLast = index === STATIONS.length - 1;
    const canvas = document.createElement("canvas");
    const height = PANEL_HEIGHT + 2 + (isLast ? AXIS_HEIGHT : 2);
    canvas.width = PAGE_WIDTH;
    canvas.height = height;
    canvas.style.top = PLOT_TOP + PANEL_HEIGHT * index - 2 + "px";
    canvas.style.width = PAGE_WIDTH + "px";
    canvas.style.height = height + "px";
    document.getElementById("panels").appendChild(canvas);

    const points = TRACES[index].map((value, i) => ({ x: i * SAMPLE_STEP, y: value }));

    new Chart(canvas.getContext("2d"), {
        type: "line",
        data: {
            datasets: [
                {
                    label: STATIONS[index],
                    data: points,
                    borderColor: "#000",
                    borderWidth: 1.3,
                    pointRadius: 0,
                    tension: 0,
                },
            ],
        },
        options: {
            responsive: false,
            animation: false,
            devicePixelRatio: 1,
            layout: {
                padding: { top: 2, bottom: isLast ? 0 : 2, left: 0, right: PAGE_WIDTH - PLOT_RIGHT },
            },
            plugins: {
                legend: { display: false },
                tooltip: { enabled: false },
            },
            scales: {
                x: {
                    type: "linear",
                    min: 0,
                    max: 60,
                    display: isLast,
                    grid: { display: false },
                    border: { display: false },
                    afterBuildTicks: (scale) => {
                        scale.ticks = X_TICKS.map((v) => ({ value: v }));
                    },
                    afterFit: (scale) => {
                        scale.height = isLast ? AXIS_HEIGHT : 0;
                        scale.paddingLeft = 0;
                        scale.paddingRight = 0;
                    },
                    ticks: {
                        font: { size: 34 },
                        padding: 4,
                        maxRotation: 0,
                    },
                },
                y: {
                    min: -100,
                    max: 100,
                    grid: { display: false, drawTicks: false },
                    border: { display: false },
                    afterBuildTicks: (scale) => {
                        scale.ticks = [{ value: 0 }];
                    },
                    afterFit: (scale) => {
                        scale.width = PLOT_LEFT;
                        scale.paddingTop = 0;
                        scale.paddingBottom = 0;
                    },
                    ticks: {
                        font: { size: 36 },
                        padding: 19,
                        callback: () => STATIONS[index],
                    },
                },
            },
        },
        plugins: [panelFrame],
    });
}

STATIONS.forEach((name, i) => makePanel(i));
</script>
</body>
</html>
